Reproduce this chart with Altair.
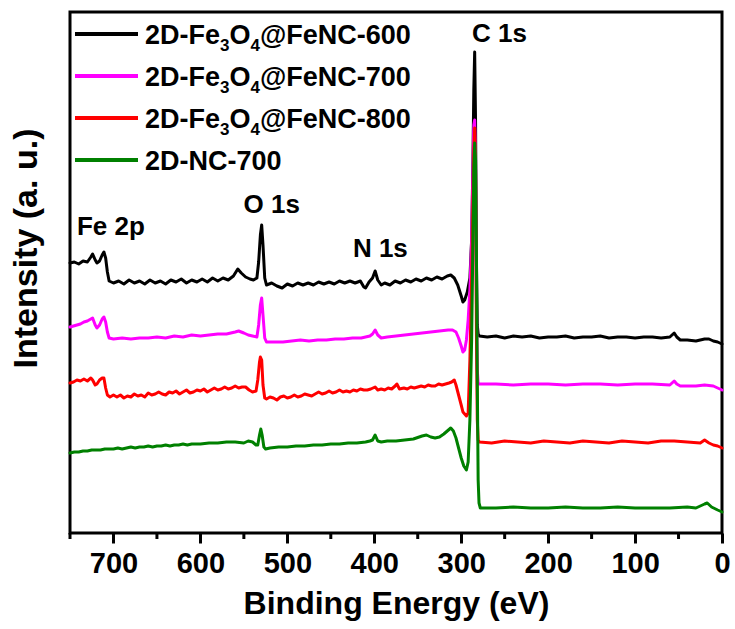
import altair as alt
import pandas as pd

FONT = "Liberation Sans"

# ---- XPS survey spectra: binding energy (eV) and intensity (a.u., offset per sample) ----
BLACK_E = [
    750, 745, 740, 735, 730, 726, 724, 721, 719, 716,
    713, 711, 709, 707, 705, 700, 694, 688, 682, 676,
    670, 664, 658, 652, 646, 640, 634, 628, 622, 616,
    610, 604, 598, 592, 586, 580, 574, 568, 562, 557,
    553, 548, 543, 539, 535, 533, 531, 529.5, 528, 526,
    524, 518, 512, 506, 500, 494, 488, 482, 476, 470,
    464, 458, 452, 446, 440, 434, 428, 422, 416, 412,
    410, 406, 402, 399, 396, 392, 388, 382, 376, 370,
    364, 358, 352, 346, 340, 334, 328, 322, 316, 312,
    308, 304, 300, 298, 296, 293, 290, 288, 286.5, 285.5,
    284.5, 283.5, 282.5, 281.5, 280.5, 279, 270, 260, 250, 240,
    230, 220, 210, 200, 190, 180, 170, 160, 150, 140,
    130, 120, 110, 100, 90, 80, 70, 60, 55, 52,
    48, 40, 30, 20, 15, 10, 5, 0,
]
BLACK_I = [
    270, 271, 269, 272, 271, 276, 279, 273, 270, 272,
    278, 281, 275, 261, 252, 250, 252, 249, 253, 250,
    252, 249, 253, 250, 252, 249, 253, 251, 254, 250,
    253, 251, 254, 251, 255, 252, 255, 253, 257, 264,
    260, 256, 254, 253, 255, 271, 298, 308, 288, 255,
    248, 250, 247, 245, 249, 247, 250, 248, 250, 248,
    251, 249, 251, 249, 252, 250, 252, 250, 252, 246,
    245, 251, 255, 262, 253, 248, 250, 248, 252, 250,
    253, 251, 254, 252, 255, 253, 256, 254, 257, 258,
    255, 248, 237, 231, 233, 241, 255, 293, 373, 443,
    481, 413, 273, 208, 199, 197, 196, 197, 195, 197,
    196, 197, 195, 196, 196, 197, 195, 196, 196, 197,
    195, 196, 196, 195, 196, 196, 195, 196, 200, 196,
    193, 193, 192, 194, 194, 192, 191, 189,
]

MAGENTA_E = [
    750, 746, 742, 738, 734, 730, 726, 724, 721, 719,
    716, 713, 711, 709, 707, 705, 700, 690, 680, 670,
    660, 650, 640, 630, 620, 610, 600, 590, 580, 570,
    560, 556, 550, 545, 540, 535, 533, 531, 529.5, 528,
    526, 524, 515, 505, 495, 485, 475, 465, 455, 445,
    435, 425, 415, 410, 405, 402, 399, 396, 392, 385,
    375, 365, 355, 345, 335, 325, 315, 310, 306, 303,
    300, 298, 296, 294, 292, 290, 288, 286.5, 285.5, 284.5,
    283.5, 282.5, 281.5, 280.5, 279, 260, 240, 220, 200, 180,
    160, 140, 120, 100, 80, 60, 55, 52, 48, 30,
    20, 10, 5, 0,
]
MAGENTA_I = [
    206, 207, 208, 209, 211, 212, 214, 215, 208, 205,
    208, 214, 216, 211, 201, 195, 194, 195, 194, 195,
    195, 196, 195, 197, 196, 198, 197, 198, 199, 199,
    201, 202, 200, 198, 197, 196, 208, 228, 235, 218,
    195, 191, 191, 191, 192, 193, 192, 193, 193, 194,
    194, 195, 195, 196, 197, 199, 203, 198, 195, 196,
    197, 198, 199, 200, 201, 202, 203, 203, 201, 195,
    187, 181, 183, 193, 213, 243, 293, 363, 408, 413,
    373, 233, 163, 150, 149, 149, 148, 149, 149, 148,
    149, 149, 148, 149, 149, 148, 152, 149, 147, 147,
    148, 147, 145, 143,
]

RED_E = [
    750, 746, 742, 738, 734, 730, 726, 724, 721, 719,
    716, 713, 711, 709, 707, 704, 700, 696, 692, 688,
    684, 680, 676, 672, 668, 664, 660, 656, 652, 648,
    644, 640, 636, 632, 628, 624, 620, 616, 612, 608,
    604, 600, 596, 592, 588, 584, 580, 576, 572, 568,
    564, 560, 556, 552, 548, 544, 540, 536, 534, 532,
    531, 529.5, 528, 526, 524, 520, 516, 512, 508, 504,
    500, 496, 492, 488, 484, 480, 476, 472, 468, 464,
    460, 456, 452, 448, 444, 440, 436, 432, 428, 424,
    420, 416, 412, 408, 404, 399, 396, 392, 388, 384,
    380, 376, 374, 371, 366, 362, 358, 354, 350, 346,
    342, 338, 334, 330, 326, 322, 318, 314, 311, 308,
    306, 303, 300, 298, 296, 294, 292, 290, 288, 286.5,
    285.5, 284.5, 283.5, 282.5, 281.5, 280.5, 279, 265, 250, 235,
    220, 205, 190, 175, 160, 145, 130, 115, 100, 85,
    70, 55, 40, 25, 20, 15, 10, 5, 0,
]
RED_I = [
    150, 151, 153, 152, 154, 152, 155, 153, 148, 149,
    153, 155, 155, 145, 138, 136, 138, 136, 138, 135,
    137, 136, 139, 137, 138, 136, 140, 138, 139, 141,
    139, 138, 141, 140, 142, 139, 141, 143, 140, 141,
    143, 142, 144, 141, 143, 145, 143, 144, 146, 144,
    145, 147, 145, 146, 146, 143, 141, 142, 153, 171,
    176, 173, 148, 135, 134, 136, 135, 133, 136, 137,
    135, 136, 138, 136, 137, 139, 138, 137, 139, 141,
    139, 140, 142, 140, 141, 143, 141, 142, 141, 143,
    142, 144, 143, 143, 144, 146, 143, 144, 143, 145,
    144, 147, 149, 144, 145, 144, 146, 145, 146, 147,
    146, 148, 147, 147, 149, 148, 149, 150, 151, 153,
    148, 138, 128, 121, 119, 117, 120, 173, 253, 333,
    383, 405, 363, 203, 113, 93, 91, 90, 92, 91,
    90, 92, 91, 90, 92, 91, 90, 92, 91, 90,
    92, 92, 91, 90, 93, 90, 88, 87, 85,
]

GREEN_E = [
    750, 745, 740, 735, 730, 725, 720, 715, 710, 705,
    700, 695, 690, 685, 680, 675, 670, 665, 660, 655,
    650, 645, 640, 635, 630, 625, 620, 615, 610, 600,
    590, 580, 570, 560, 550, 545, 540, 536, 534, 532,
    530.5, 529, 527, 525, 520, 510, 500, 490, 480, 470,
    460, 450, 440, 430, 420, 410, 405, 402, 399, 396,
    392, 385, 375, 365, 355, 345, 340, 335, 330, 325,
    320, 316, 312, 309, 306, 303, 300, 297, 294, 292,
    290, 288, 286.5, 285.5, 284.5, 283.5, 282.5, 281.5, 280.5, 279.5,
    278, 260, 240, 220, 200, 180, 160, 140, 120, 100,
    80, 60, 40, 30, 25, 20, 17, 12, 5, 0,
]
GREEN_I = [
    80, 81, 81, 82, 82, 83, 83, 83, 84, 84,
    84, 85, 84, 85, 86, 85, 86, 86, 87, 86,
    87, 87, 88, 87, 88, 88, 89, 88, 89, 89,
    90, 90, 91, 91, 90, 92, 91, 88, 88, 98,
    104, 98, 86, 84, 85, 86, 86, 87, 87, 88,
    88, 89, 89, 90, 90, 91, 92, 93, 98, 92,
    91, 92, 92, 93, 94, 97, 98, 96, 95, 96,
    99, 102, 105, 102, 95, 85, 75, 67, 63, 71,
    113, 193, 293, 363, 390, 373, 283, 153, 53, 30,
    25, 25, 26, 25, 25, 26, 25, 25, 26, 25,
    25, 25, 26, 25, 27, 29, 30, 26, 23, 21,
]

SERIES = ["2D-Fe3O4@FeNC-600", "2D-Fe3O4@FeNC-700", "2D-Fe3O4@FeNC-800", "2D-NC-700"]
COLORS = ["#000000", "#ff00ff", "#ff0000", "#008000"]
SPECTRA = [(BLACK_E, BLACK_I), (MAGENTA_E, MAGENTA_I), (RED_E, RED_I), (GREEN_E, GREEN_I)]

# core-level assignments and where their labels sit (eV, a.u.)
PEAK_LABELS = ["Fe 2p", "O 1s", "N 1s", "C 1s"]
PEAK_LABEL_E = [703, 518, 393, 256]
PEAK_LABEL_I = [298, 320, 276, 491]

MAJOR_TICKS = [0, 100, 200, 300, 400, 500, 600, 700]
MINOR_TICKS = [50, 150, 250, 350, 450, 550, 650, 750]

# ---- layout ----
W, H = 652, 521
x_scale = alt.Scale(domain=[0, 750], reverse=True, nice=False, zero=False)
y_scale = alt.Scale(domain=[0, 521], nice=False, zero=False)

x_axis = alt.Axis(
    values=MAJOR_TICKS, title="Binding Energy (eV)", grid=False, domain=False,
    ticks=True, tickSize=10, tickWidth=3, tickColor="black",
    labelFont=FONT, labelFontSize=29, labelFontWeight="bold", labelColor="black",
    labelPadding=6, labelFlush=False, labelOverlap=False,
    titleFont=FONT, titleFontSize=32, titleFontWeight="bold", titleColor="black",
    titleBaseline="alphabetic", titleY=80,
)
y_axis = alt.Axis(
    title="Intensity (a. u.)", labels=False, ticks=False, domain=False, grid=False,
    titleFont=FONT, titleFontSize=34, titleFontWeight="bold", titleColor="black",
    titleX=-27, titleY=236,
)

layers = []

# minor ticks below the frame
layers.append(
    alt.Chart(pd.DataFrame({"E": MINOR_TICKS}))
    .mark_rule(color="black", strokeWidth=3)
    .encode(x=alt.X("E:Q", scale=x_scale, axis=x_axis), y=alt.value(H), y2=alt.value(H + 6))
)

# the four spectra, black drawn first and green last
for name, color, (energies, intens) in zip(SERIES, COLORS, SPECTRA):
    df = pd.DataFrame({"E": energies, "I": intens, "sample": name})
    layers.append(
        alt.Chart(df)
        .mark_line(color=color, strokeWidth=3, strokeJoin="round", strokeCap="round")
        .encode(
            x=alt.X("E:Q", scale=x_scale, axis=x_axis),
            y=alt.Y("I:Q", scale=y_scale, axis=y_axis),
        )
    )

# peak assignments
layers.append(
    alt.Chart(pd.DataFrame({"E": PEAK_LABEL_E, "I": PEAK_LABEL_I, "label": PEAK_LABELS}))
    .mark_text(font=FONT, fontSize=26, fontWeight="bold", color="black",
               align="center", baseline="alphabetic")
    .encode(
        x=alt.X("E:Q", scale=x_scale, axis=x_axis),
        y=alt.Y("I:Q", scale=y_scale, axis=y_axis),
        text="label:N",
    )
)

# hand-built legend so the Fe3O4 subscripts render
CHAR_W = {"2": .556, "3": .556, "4": .556, "6": .556, "7": .556, "8": .556, "0": .556,
          "D": .722, "-": .333, "F": .611, "e": .556, "O": .778, "@": .975,
          "N": .722, "C": .722}
LEG_SIZE, SUB_SIZE = 27, 17


def text_width(s, size):
    return sum(CHAR_W.get(ch, .556) for ch in s) * size


def name_pieces(name):
    if "Fe3O4" in name:
        pre, post = name.split("Fe3O4")
        return [(pre + "Fe", False), ("3", True), ("O", False), ("4", True), (post, False)]
    return [(name, False)]


row_y = [22, 64, 106, 148]
for name, color, ry in zip(SERIES, COLORS, row_y):
    layers.append(
        alt.Chart(pd.DataFrame({"k": [0]}))
        .mark_rule(color=color, strokeWidth=4)
        .encode(x=alt.value(5), x2=alt.value(68), y=alt.value(ry))
    )
    xpos = 75.0
    for piece, sub in name_pieces(name):
        size = SUB_SIZE if sub else LEG_SIZE
        base = ry + 10 + (7 if sub else 0)
        layers.append(
            alt.Chart(pd.DataFrame({"t": [piece]}))
            .mark_text(font=FONT, fontSize=size, fontWeight="bold", color="black",
                       align="left", baseline="alphabetic")
            .encode(x=alt.value(xpos), y=alt.value(base), text="t:N")
        )
        xpos += text_width(piece, size)

chart = (
    alt.layer(*layers)
    .properties(
        width=W, height=H,
        padding={"left": 70, "top": 12, "right": 13, "bottom": 96},
        autosize=alt.AutoSizeParams(type="none"),
        background="white",
    )
    .configure_view(stroke="black", strokeWidth=3)
)

chart.save("out.html", embed_options={"renderer": "svg", "actions": False})
